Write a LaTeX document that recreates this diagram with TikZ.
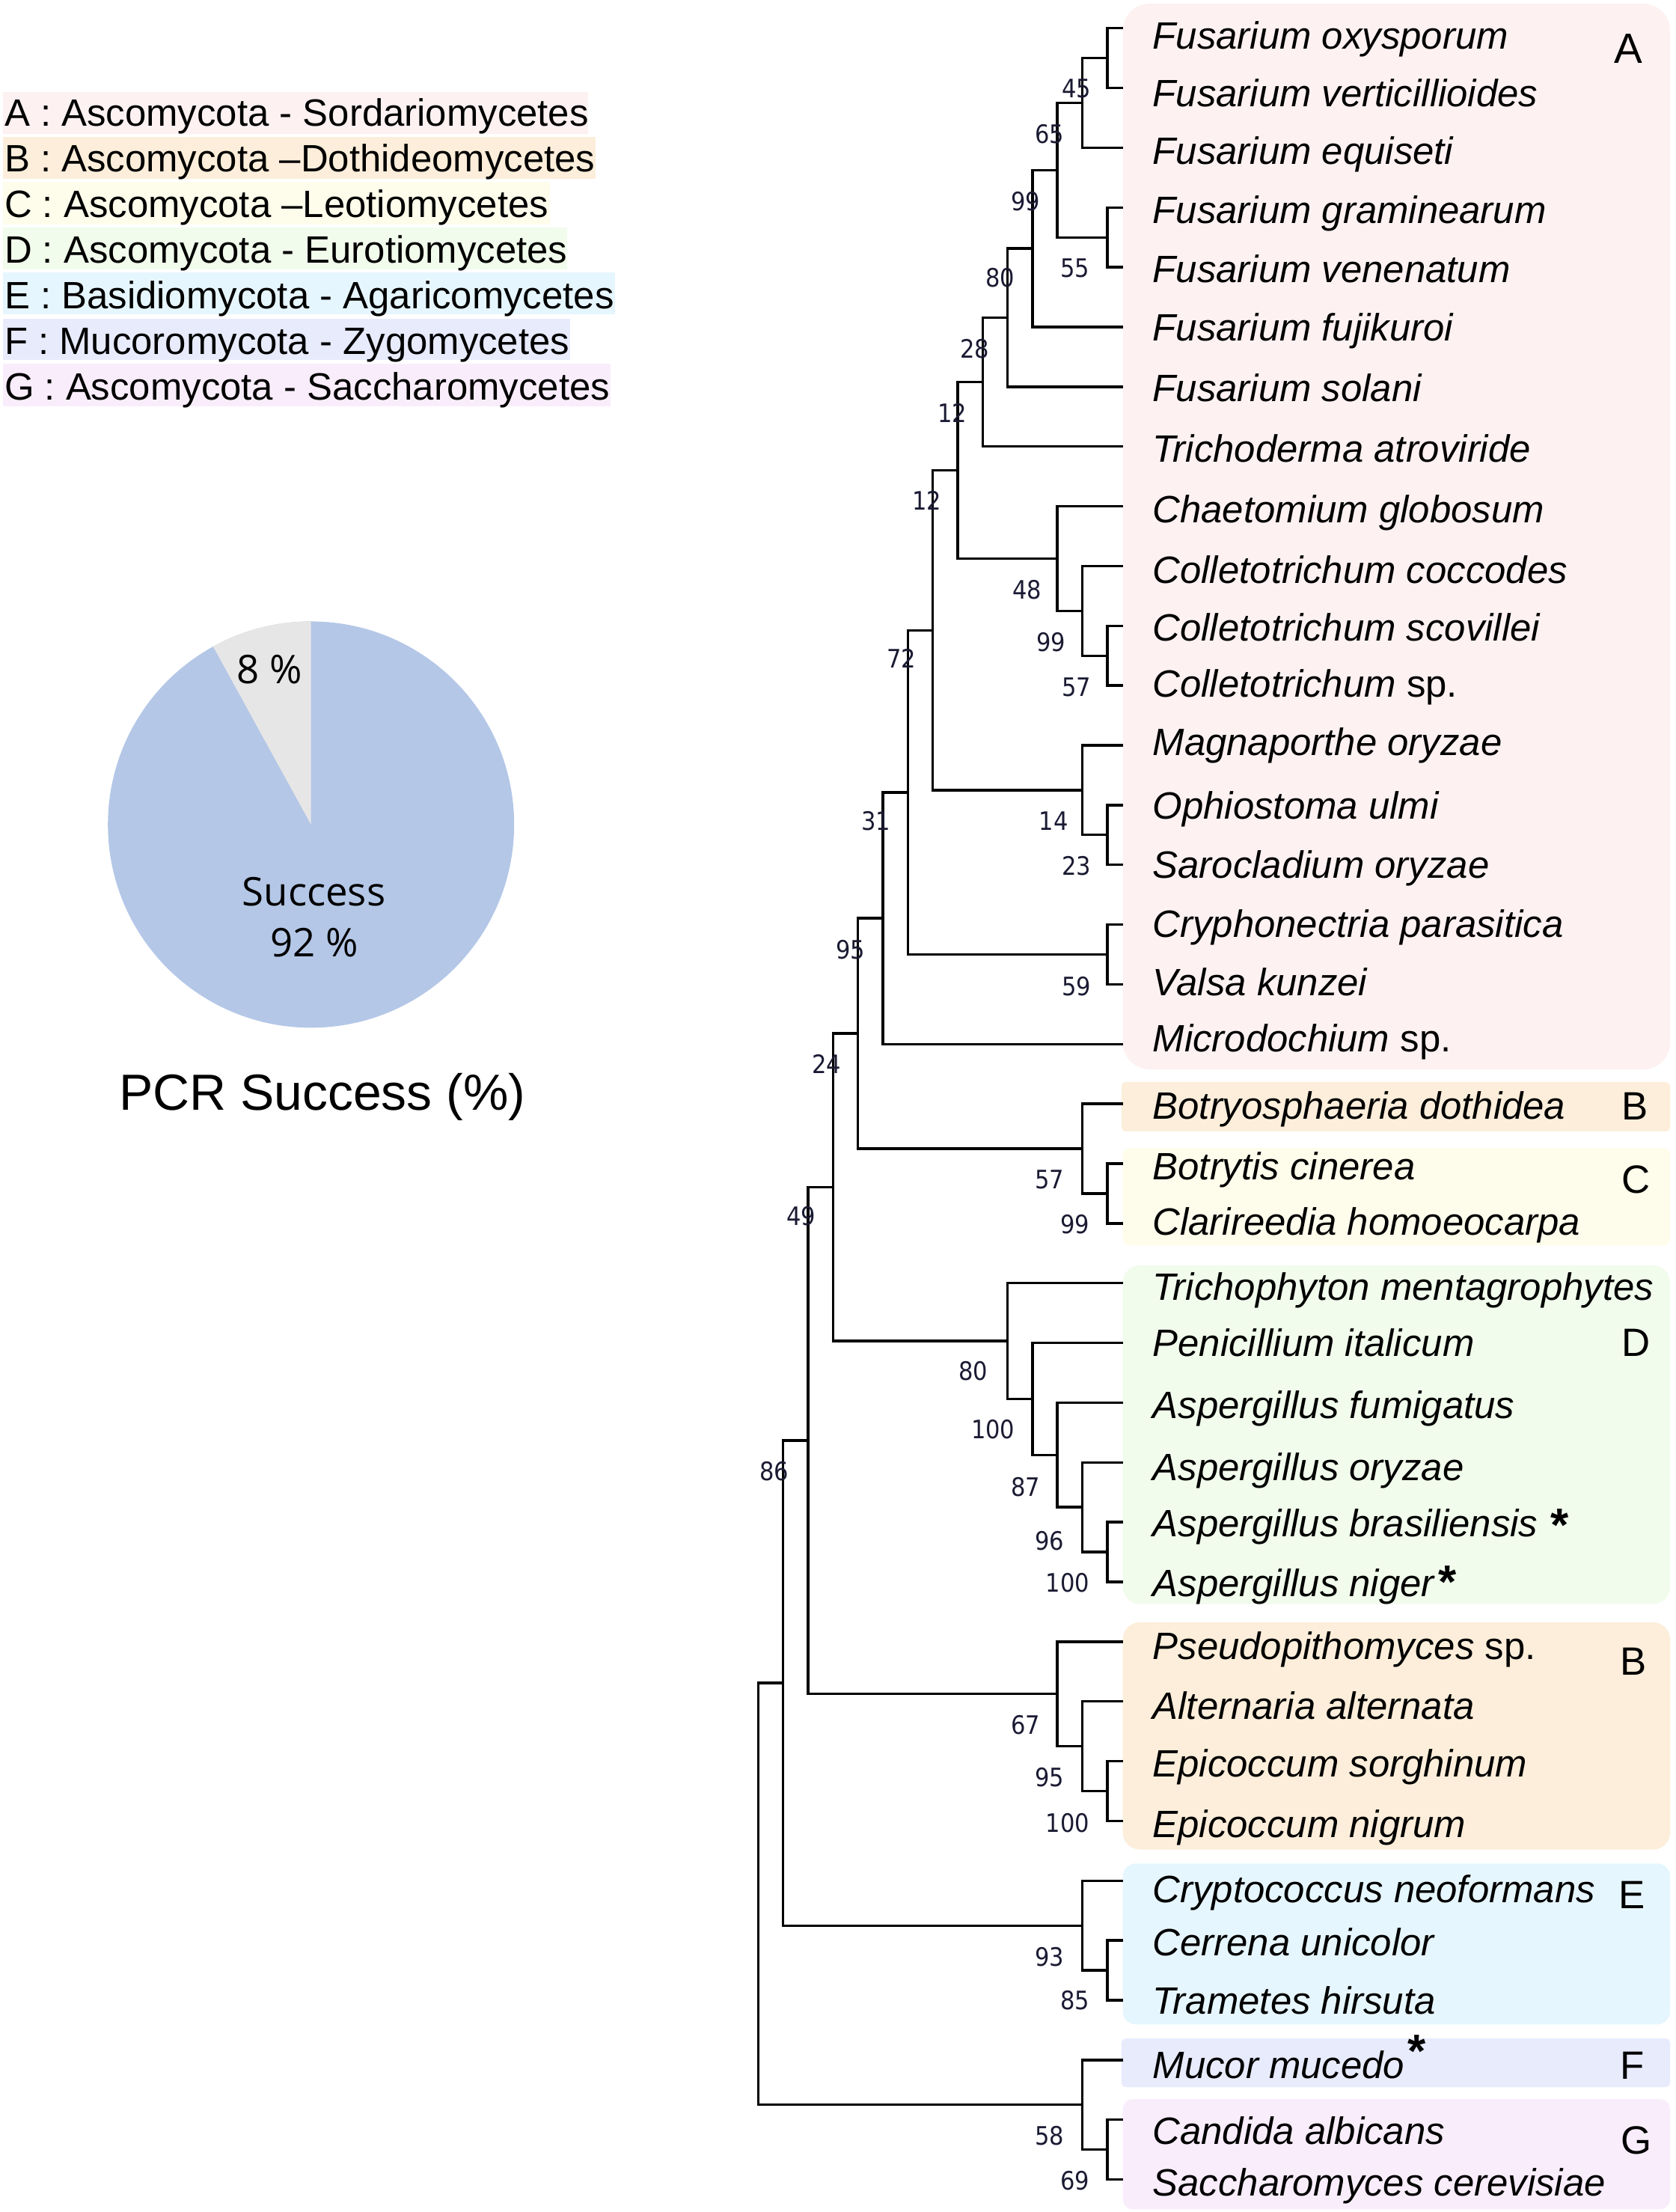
\documentclass[tikz,border=0pt]{standalone}
\usepackage{fontspec}
\setmainfont{Liberation Sans}
\newfontfamily\piefont{Open Sans}
\newfontfamily\bsfont[FakeStretch=0.9]{DejaVu Sans}
\definecolor{cA}{HTML}{FDF1F2}
\definecolor{cB}{HTML}{FCEEDA}
\definecolor{cC}{HTML}{FEFDEC}
\definecolor{cD}{HTML}{F1FCEC}
\definecolor{cE}{HTML}{E6F6FE}
\definecolor{cF}{HTML}{E7EBFC}
\definecolor{cG}{HTML}{F9EDFB}
\definecolor{pieblue}{HTML}{B4C7E7}
\definecolor{piegray}{HTML}{E7E6E6}
\definecolor{bootc}{HTML}{1A1A33}
\newcommand{\myast}[1][0pt]{\raisebox{#1}{\fontsize{33}{33}\selectfont\upshape\bfseries *}}
\begin{document}
\begin{tikzpicture}[x=1pt,y=-1pt,
  branch/.style={line width=1.8pt, line join=miter},
  leaf/.style={anchor=base west, inner sep=0pt, font=\fontsize{27}{30}\selectfont\itshape},
  boot/.style={inner sep=0pt, font=\bsfont\fontsize{18}{20}\selectfont, text=bootc},
  grp/.style={inner sep=0pt, font=\fontsize{28}{30}\selectfont},
  legtext/.style={anchor=base west, inner sep=0pt, font=\fontsize{27}{30}\selectfont},
  pielabel/.style={anchor=base, inner sep=0pt, font=\piefont\fontsize{28}{30}\selectfont},
]
\useasboundingbox (0,0) rectangle (1187.7,1568);

% ---------- legend ----------
\fill[cA] (2,65) rectangle (417,95);
\fill[cB] (2,97) rectangle (422,127);
\fill[cC] (2,129) rectangle (390,159);
\fill[cD] (2,161) rectangle (402,191);
\fill[cE] (2,193) rectangle (436,223);
\fill[cF] (2,226) rectangle (404,255);
\fill[cG] (2,258) rectangle (433,288);
\node[legtext] (legA) at (3,89.2) {A : Ascomycota - Sordariomycetes};
\node[legtext] (legB) at (3,121.6) {B : Ascomycota –Dothideomycetes};
\node[legtext] (legC) at (3,154.0) {C : Ascomycota –Leotiomycetes};
\node[legtext] (legD) at (3,186.4) {D : Ascomycota - Eurotiomycetes};
\node[legtext] (legE) at (3,218.8) {E : Basidiomycota - Agaricomycetes};
\node[legtext] (legF) at (3,251.2) {F : Mucoromycota - Zygomycetes};
\node[legtext] (legG) at (3,283.6) {G : Ascomycota - Saccharomycetes};

% ---------- pie ----------
\coordinate (pc) at (220.5,584.5);
\fill[pieblue] (pc) circle[radius=144];
\fill[piegray] (pc) -- +(0,-144) arc[start angle=-90, end angle=-118.8, radius=144] -- cycle;
\node[pielabel] (p8) at (191,484.5) {8 \%};
\node[pielabel] (psucc) at (222.5,642) {Success};
\node[pielabel] (p92) at (223,678) {92 \%};
\node[anchor=base, inner sep=0pt, font=\fontsize{36}{40}\selectfont] (ptitle) at (228.5,787) {PCR Success (\%)};

% ---------- clade boxes ----------
\fill[cA, rounded corners=19pt] (796,2.6) rectangle (1184,758);
\fill[cB, rounded corners=3pt] (795,767) rectangle (1184,802);
\fill[cC, rounded corners=5pt] (796,813.6) rectangle (1184,883);
\fill[cD, rounded corners=12pt] (796,897) rectangle (1184,1137);
\fill[cB, rounded corners=12pt] (796,1150) rectangle (1184,1311);
\fill[cE, rounded corners=9pt] (796,1321) rectangle (1184,1435);
\fill[cF, rounded corners=3pt] (795,1445) rectangle (1184,1479.5);
\fill[cG, rounded corners=7pt] (796,1488) rectangle (1184,1566);
\node[grp, font=\fontsize{30}{32}\selectfont] (gA) at (1154.5,34.5) {A};
\node[grp] (gB1) at (1159,784) {B};
\node[grp] (gC) at (1160,836) {C};
\node[grp] (gD) at (1160,952) {D};
\node[grp] (gB2) at (1158,1178) {B};
\node[grp] (gE) at (1157,1343) {E};
\node[grp] (gF) at (1157,1464) {F};
\node[grp] (gG) at (1160,1517) {G};

% ---------- tips ----------
\foreach \i in {1,...,37} {
  \coordinate (t\i) at (796,{20+42.36*(\i-1)});
}
% ---------- internal nodes ----------
\coordinate (a1) at (785.0,41.18);
\coordinate (n45) at (767.3,72.95);
\coordinate (n55) at (785.0,168.26);
\coordinate (n65) at (749.6,120.61);
\coordinate (n99a) at (732.0,176.20);
\coordinate (n80a) at (714.3,225.18);
\coordinate (n28) at (696.6,270.85);
\coordinate (n57a) at (785.0,464.78);
\coordinate (n99b) at (767.3,433.01);
\coordinate (n48) at (749.6,395.95);
\coordinate (n12a) at (678.9,333.40);
\coordinate (n23) at (785.0,591.86);
\coordinate (n14) at (767.3,560.09);
\coordinate (n12b) at (661.2,446.75);
\coordinate (n59) at (785.0,676.58);
\coordinate (n72) at (643.6,561.66);
\coordinate (n31) at (625.9,650.89);
\coordinate (n99c) at (785.0,846.02);
\coordinate (n57b) at (767.3,814.25);
\coordinate (n95a) at (608.2,732.57);
\coordinate (n100a) at (785.0,1100.18);
\coordinate (n96) at (767.3,1068.41);
\coordinate (n87) at (749.6,1031.35);
\coordinate (n100b) at (732.0,991.63);
\coordinate (n80b) at (714.3,950.60);
\coordinate (n24) at (590.5,841.59);
\coordinate (n100c) at (785.0,1269.62);
\coordinate (n95b) at (767.3,1237.85);
\coordinate (n67) at (749.6,1200.79);
\coordinate (n49) at (572.8,1021.19);
\coordinate (n85) at (785.0,1396.70);
\coordinate (n93) at (767.3,1364.93);
\coordinate (n86) at (555.2,1193.06);
\coordinate (n69) at (785.0,1523.78);
\coordinate (n58) at (767.3,1492.01);
\coordinate (root) at (537.5,1342.54);

% ---------- branches ----------
\draw[branch] (t1) -| (a1) |- (t2);
\draw[branch] (a1) -| (n45) |- (t3);
\draw[branch] (n45) -| (n65) |- (n55);
\draw[branch] (t4) -| (n55) |- (t5);
\draw[branch] (n65) -| (n99a) |- (t6);
\draw[branch] (n99a) -| (n80a) |- (t7);
\draw[branch] (n80a) -| (n28) |- (t8);
\draw[branch] (n28) -| (n12a) |- (n48);
\draw[branch] (t9) -| (n48) |- (n99b);
\draw[branch] (t10) -| (n99b) |- (n57a);
\draw[branch] (t11) -| (n57a) |- (t12);
\draw[branch] (n12a) -| (n12b) |- (n14);
\draw[branch] (t13) -| (n14) |- (n23);
\draw[branch] (t14) -| (n23) |- (t15);
\draw[branch] (n12b) -| (n72) |- (n59);
\draw[branch] (t16) -| (n59) |- (t17);
\draw[branch] (n72) -| (n31) |- (t18);
\draw[branch] (n31) -| (n95a) |- (n57b);
\draw[branch] (t19) -| (n57b) |- (n99c);
\draw[branch] (t20) -| (n99c) |- (t21);
\draw[branch] (n95a) -| (n24) |- (n80b);
\draw[branch] (t22) -| (n80b) |- (n100b);
\draw[branch] (t23) -| (n100b) |- (n87);
\draw[branch] (t24) -| (n87) |- (n96);
\draw[branch] (t25) -| (n96) |- (n100a);
\draw[branch] (t26) -| (n100a) |- (t27);
\draw[branch] (n24) -| (n49) |- (n67);
\draw[branch] (t28) -| (n67) |- (n95b);
\draw[branch] (t29) -| (n95b) |- (n100c);
\draw[branch] (t30) -| (n100c) |- (t31);
\draw[branch] (n49) -| (n86) |- (n93);
\draw[branch] (t32) -| (n93) |- (n85);
\draw[branch] (t33) -| (n85) |- (t34);
\draw[branch] (n86) -| (root) |- (n58);
\draw[branch] (t35) -| (n58) |- (n69);
\draw[branch] (t36) -| (n69) |- (t37);

% ---------- bootstrap values ----------
\node[boot] (b45) at (763,63) {45};
\node[boot] (b65) at (744,95) {65};
\node[boot] (b99a) at (727,143) {99};
\node[boot] (b55) at (762,190) {55};
\node[boot] (b80a) at (709,197) {80};
\node[boot] (b28) at (691,247) {28};
\node[boot] (b12a) at (675,293) {12};
\node[boot] (b12b) at (657,355) {12};
\node[boot] (b48) at (728,418) {48};
\node[boot] (b99b) at (745,455) {99};
\node[boot] (b57a) at (763,487) {57};
\node[boot] (b72) at (639,467) {72};
\node[boot] (b14) at (747,582) {14};
\node[boot] (b23) at (763,614) {23};
\node[boot] (b31) at (621,582) {31};
\node[boot] (b59) at (763,699) {59};
\node[boot] (b95a) at (603,673) {95};
\node[boot] (b24) at (586,754) {24};
\node[boot] (b57b) at (744,836) {57};
\node[boot] (b99c) at (762,868) {99};
\node[boot] (b49) at (568,862) {49};
\node[boot] (b80b) at (690,972) {80};
\node[boot] (b100b) at (704,1013) {100};
\node[boot] (b87) at (727,1054) {87};
\node[boot] (b96) at (744,1092) {96};
\node[boot] (b100a) at (757,1122) {100};
\node[boot] (b86) at (549,1043) {86};
\node[boot] (b67) at (727,1223) {67};
\node[boot] (b95b) at (744,1260) {95};
\node[boot] (b100c) at (757,1292) {100};
\node[boot] (b93) at (744,1387) {93};
\node[boot] (b85) at (762,1418) {85};
\node[boot] (b58) at (744,1514) {58};
\node[boot] (b69) at (762,1546) {69};

% ---------- leaf labels (x, baseline) ----------
\foreach \i/\yb/\txt in {
  1/34.5/{Fusarium oxysporum},
  2/75.5/{Fusarium verticillioides},
  3/116.5/{Fusarium equiseti},
  4/158.5/{Fusarium graminearum},
  5/200.5/{Fusarium venenatum},
  6/241.5/{Fusarium fujikuroi},
  7/284.5/{Fusarium solani},
  8/327.5/{Trichoderma atroviride},
  9/370.5/{Chaetomium globosum},
  10/413.5/{Colletotrichum coccodes},
  11/454.5/{Colletotrichum scovillei},
  12/494/{Colletotrichum {\upshape sp.}},
  13/535.5/{Magnaporthe oryzae},
  14/580.5/{Ophiostoma ulmi},
  15/622.5/{Sarocladium oryzae},
  16/664.5/{Cryphonectria parasitica},
  17/705.5/{Valsa kunzei},
  18/745.5/{Microdochium {\upshape sp.}},
  19/793.5/{Botryosphaeria dothidea},
  20/836.5/{Botrytis cinerea},
  21/875.5/{Clarireedia homoeocarpa},
  22/921.5/{Trichophyton mentagrophytes},
  23/961.5/{Penicillium italicum},
  24/1005.5/{Aspergillus fumigatus},
  25/1049.5/{Aspergillus oryzae},
  26/1089.5/{Aspergillus brasiliensis\hspace{9pt}\myast[-3pt]},
  27/1131.5/{Aspergillus niger\hspace{3pt}\myast[-1pt]},
  28/1176.5/{Pseudopithomyces {\upshape sp.}},
  29/1218.5/{Alternaria alternata},
  30/1259.5/{Epicoccum sorghinum},
  31/1302.5/{Epicoccum nigrum},
  32/1348.5/{Cryptococcus neoformans},
  33/1386.5/{Cerrena unicolor},
  34/1427.5/{Trametes hirsuta},
  35/1473.5/{Mucor mucedo\hspace{2pt}\myast[8pt]},
  36/1520/{Candida albicans},
  37/1556.5/{Saccharomyces cerevisiae}} {
  \node[leaf] (L\i) at (817,\yb) {\txt};
}
\end{tikzpicture}
\end{document}
